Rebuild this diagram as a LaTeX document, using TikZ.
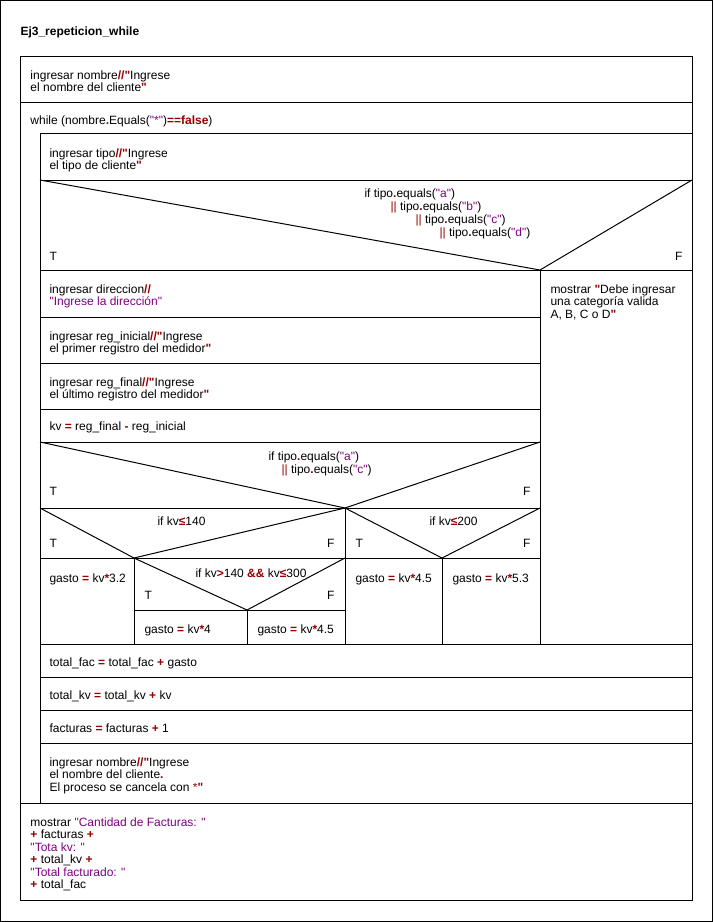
\documentclass[tikz,border=0pt]{standalone}
\usepackage{fontspec}
\setmainfont{Liberation Sans}[Ligatures=TeXOff]
\definecolor{opred}{RGB}{150,0,0}
\definecolor{strpurple}{RGB}{128,0,128}
\newcommand{\opr}[1]{\textcolor{opred}{#1}}
\newcommand{\opb}[1]{\textcolor{opred}{\bfseries #1}}
\newcommand{\strg}[1]{\textcolor{strpurple}{#1}}
\tikzset{
  nstext/.style={anchor=base west,inner sep=0pt,align=left,font=\fontsize{12}{12.5}\selectfont},
  nsblock/.style={nstext,anchor=north west,yshift=8.75pt,execute at begin node=\strut},
  nsflag/.style={anchor=base east,inner sep=0pt,font=\fontsize{12}{12.5}\selectfont}
}

\begin{document}
\begin{tikzpicture}[x=1pt,y=-1pt,line width=1pt]
  \useasboundingbox (0,0) rectangle (713,922);
  \draw (0.5,0.5) rectangle (712.5,921.5);
  \node[nstext,font=\fontsize{12}{12.5}\selectfont\bfseries] (title) at (20,35) {Ej3\_repeticion\_while};
  \draw (20,56) rectangle (692,900);
  \draw (20,102) -- (692,102);
  \draw (20,803) -- (692,803);
  \draw (40,133) rectangle (692,803);
  \draw (40,180) -- (692,180);
  \draw (40,180) -- (540,270) -- (692,180);
  \draw (40,270) -- (692,270);
  \draw (540,270) -- (540,644);
  \draw (40,317) -- (540,317);
  \draw (40,363) -- (540,363);
  \draw (40,409) -- (540,409);
  \draw (40,442) -- (540,442);
  \draw (40,442) -- (345,508) -- (540,442);
  \draw (40,508) -- (540,508);
  \draw (345,508) -- (345,644);
  \draw (40,508) -- (134,558) -- (345,508);
  \draw (345,508) -- (442,558) -- (540,508);
  \draw (40,558) -- (540,558);
  \draw (134,558) -- (134,644);
  \draw (442,558) -- (442,644);
  \draw (134,558) -- (247,610) -- (345,558);
  \draw (134,610) -- (345,610);
  \draw (247,610) -- (247,644);
  \draw (40,644) -- (692,644);
  \draw (40,677) -- (692,677);
  \draw (40,710) -- (692,710);
  \draw (40,743) -- (692,743);

  \node[nsblock] (leer1) at (30,79) {ingresar nombre\opb{//"}Ingrese\\el nombre del cliente\opb{"}};
  \node[nstext] (mientras) at (30,124) {while (nombre\opb{.}Equals(\strg{"*"})\opb{==false})};
  \node[nsblock] (leertipo) at (49,157) {ingresar tipo\opb{//"}Ingrese\\el tipo de cliente\opb{"}};
  \node[nstext] (condA) at (364,197) {if tipo\opb{.}equals(\strg{"a"})};
  \node[nstext] (condB) at (390,210) {\opr{||} tipo\opb{.}equals(\strg{"b"})};
  \node[nstext] (condC) at (415,223) {\opr{||} tipo\opb{.}equals(\strg{"c"})};
  \node[nstext] (condD) at (439,236) {\opr{||} tipo\opb{.}equals(\strg{"d"})};
  \node[nstext] (tipoT) at (49,260) {T};
  \node[nsflag] (tipoF) at (683,260) {F};
  \node[nsblock] (leerdir) at (49,293) {ingresar direccion\opb{//}\\\strg{"Ingrese la dirección"}};
  \node[nsblock] (leerini) at (49,340) {ingresar reg\_inicial\opb{//"}Ingrese\\el primer registro del medidor\opb{"}};
  \node[nsblock] (leerfin) at (49,386) {ingresar reg\_final\opb{//"}Ingrese\\el último registro del medidor\opb{"}};
  \node[nstext] (calckv) at (49,430) {kv \opb{=} reg\_final \opb{-} reg\_inicial};
  \node[nsblock] (error) at (550,293) {mostrar \opb{"}Debe ingresar\\una categoría valida\\A, B, C o D\opb{"}};
  \node[nstext] (condAC1) at (268,460) {if tipo\opb{.}equals(\strg{"a"})};
  \node[nstext] (condAC2) at (281,473) {\opr{||} tipo\opb{.}equals(\strg{"c"})};
  \node[nstext] (acT) at (49,495) {T};
  \node[nsflag] (acF) at (531,495) {F};
  \node[nstext] (cond140) at (157,525) {if kv\opb{≤}140};
  \node[nstext] (k140T) at (49,547) {T};
  \node[nsflag] (k140F) at (335,547) {F};
  \node[nstext] (cond200) at (429,525) {if kv\opb{≤}200};
  \node[nstext] (k200T) at (355,547) {T};
  \node[nsflag] (k200F) at (531,547) {F};
  \node[nstext] (gasto1) at (49,582) {gasto \opb{=} kv\opb{*}3.2};
  \node[nstext] (cond300) at (195,577) {if kv\opb{>}140 \opb{\&\&} kv\opb{≤}300};
  \node[nstext] (k300T) at (144,599) {T};
  \node[nsflag] (k300F) at (335,599) {F};
  \node[nstext] (gasto2) at (144,633) {gasto \opb{=} kv\opb{*}4};
  \node[nstext] (gasto3) at (257,633) {gasto \opb{=} kv\opb{*}4.5};
  \node[nstext] (gasto4) at (355,582) {gasto \opb{=} kv\opb{*}4.5};
  \node[nstext] (gasto5) at (452,582) {gasto \opb{=} kv\opb{*}5.3};
  \node[nstext] (sumfac) at (49,666) {total\_fac \opb{=} total\_fac \opb{+} gasto};
  \node[nstext] (sumkv) at (49,699) {total\_kv \opb{=} total\_kv \opb{+} kv};
  \node[nstext] (sumnum) at (49,732) {facturas \opb{=} facturas \opb{+} 1};
  \node[nsblock] (leer2) at (49,766) {ingresar nombre\opb{//"}Ingrese\\el nombre del cliente\opb{.}\\El proceso se cancela con \opr{*}\opb{"}};
  \node[nsblock] (salida) at (30,826) {mostrar \strg{"Cantidad de Facturas: "}\\\opb{+} facturas \opb{+}\\\strg{"Tota kv: "}\\\opb{+} total\_kv \opb{+}\\\strg{"Total facturado: "}\\\opb{+} total\_fac};
\end{tikzpicture}
\end{document}
